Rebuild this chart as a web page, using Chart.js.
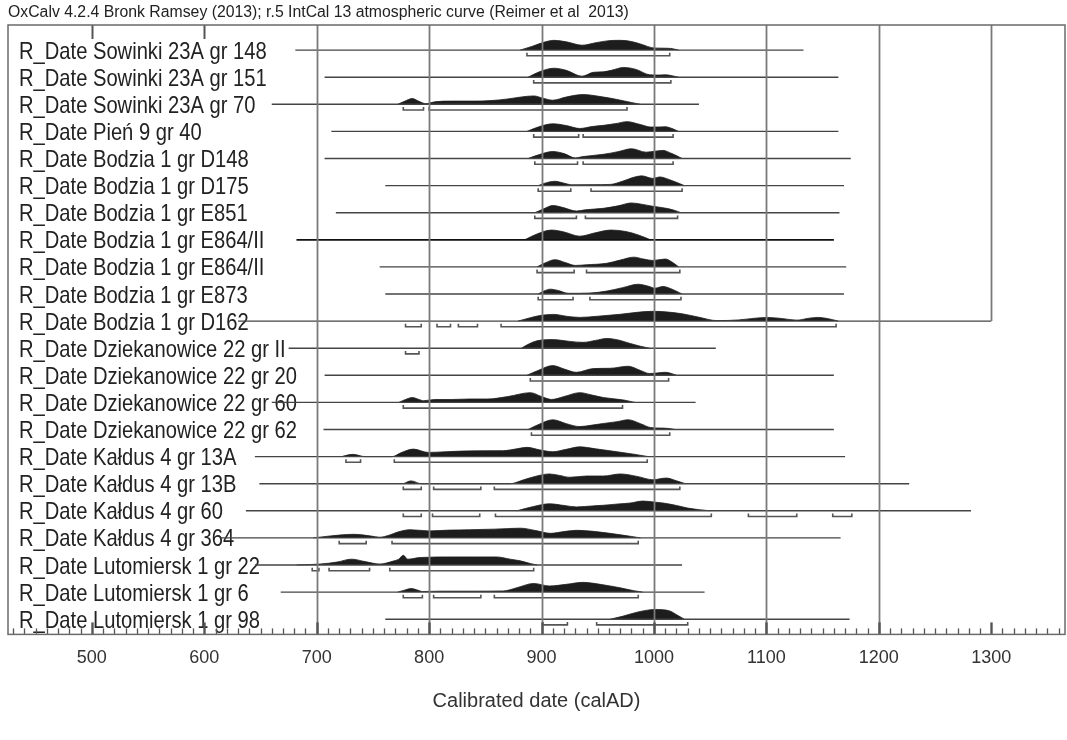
<!DOCTYPE html>
<html>
<head>
<meta charset="utf-8">
<script src="https://cdn.jsdelivr.net/npm/chart.js@4.4.1/dist/chart.umd.min.js"></script>
<style>
  html, body { margin: 0; padding: 0; background: #fff; }
  #wrap { width: 1067px; height: 740px; }
</style>
</head>
<body>
<div id="wrap"><canvas id="chart" width="1067" height="740"></canvas></div>
<script>

const headerText = 'OxCalv 4.2.4 Bronk Ramsey (2013); r.5 IntCal 13 atmospheric curve (Reimer et al  2013)';
const axisTitle = 'Calibrated date (calAD)';

const sampleLabels = [
  'R_Date Sowinki 23A gr 148',
  'R_Date Sowinki 23A gr 151',
  'R_Date Sowinki 23A gr 70',
  'R_Date Pień 9 gr 40',
  'R_Date Bodzia 1 gr D148',
  'R_Date Bodzia 1 gr D175',
  'R_Date Bodzia 1 gr E851',
  'R_Date Bodzia 1 gr E864/II',
  'R_Date Bodzia 1 gr E864/II',
  'R_Date Bodzia 1 gr E873',
  'R_Date Bodzia 1 gr D162',
  'R_Date Dziekanowice 22 gr II',
  'R_Date Dziekanowice 22 gr 20',
  'R_Date Dziekanowice 22 gr 60',
  'R_Date Dziekanowice 22 gr 62',
  'R_Date Kałdus 4 gr 13A',
  'R_Date Kałdus 4 gr 13B',
  'R_Date Kałdus 4 gr 60',
  'R_Date Kałdus 4 gr 364',
  'R_Date Lutomiersk 1 gr 22',
  'R_Date Lutomiersk 1 gr 6',
  'R_Date Lutomiersk 1 gr 98'
];

// full span of each row's line (calAD)
const rangeLines = [
  [681, 1133], [707, 1164], [660, 1040], [713, 1164], [707, 1175],
  [761, 1169], [717, 1165], [682, 1160], [756, 1171], [761, 1169],
  [630, 1300], [675, 1055], [707, 1160], [660, 1037], [706, 1160],
  [645, 1170], [649, 1227], [637, 1282], [614, 1166], [645, 1025],
  [668, 1045], [761, 1174]
];

// probability outlines: [calAD, relative probability]
const distributions = [
  [[881,0],[892,0.4],[902,0.8],[911,1],[922,0.85],[936,0.5],[948,0.75],[960,0.97],[970,1],[980,0.88],[990,0.55],[998,0.25],[1006,0.2],[1015,0.17],[1022,0]],
  [[888,0],[898,0.55],[911,0.92],[922,0.7],[936,0.1],[946,0.5],[955,0.55],[962,0.7],[973,1],[984,0.8],[996,0.25],[1004,0.22],[1010,0.25],[1016,0.15],[1022,0]],
  [[772,0],[778,0.3],[785,0.59],[791,0.3],[797,0.06],[805,0.25],[820,0.33],[840,0.33],[855,0.38],[870,0.55],[882,0.75],[893,0.86],[902,0.6],[910,0.42],[922,0.75],[937,1],[952,0.8],[967,0.5],[980,0.18],[988,0]],
  [[887,0],[897,0.45],[910,0.78],[922,0.6],[934,0.3],[945,0.5],[955,0.62],[966,0.8],[976,1],[988,0.7],[997,0.45],[1004,0.45],[1010,0.48],[1016,0.3],[1022,0]],
  [[888,0],[898,0.4],[910,0.72],[920,0.5],[930,0.06],[937,0.2],[955,0.43],[968,0.7],[980,1],[993,0.65],[1001,0.75],[1008,0.83],[1016,0.5],[1025,0]],
  [[897,0],[903,0.25],[912,0.44],[920,0.25],[927,0.08],[945,0.1],[961,0.12],[972,0.45],[982,0.85],[989,1],[999,0.74],[1005,0.89],[1014,0.6],[1027,0]],
  [[894,0],[902,0.4],[910,0.74],[920,0.5],[931,0.17],[939,0.3],[955,0.45],[968,0.7],[980,1],[990,0.85],[999,0.66],[1011,0.45],[1018,0.25],[1024,0]],
  [[885,0],[896,0.6],[909,1],[920,0.8],[934,0.37],[947,0.7],[962,1],[975,0.85],[986,0.5],[997,0]],
  [[896,0],[903,0.4],[912,0.74],[921,0.45],[930,0.15],[940,0.22],[958,0.37],[970,0.7],[982,1],[991,0.8],[999,0.66],[1010,0.81],[1016,0.5],[1022,0]],
  [[897,0],[902,0.3],[908,0.5],[915,0.35],[924,0.07],[943,0.1],[958,0.3],[972,0.65],[986,1],[995,0.8],[1001,0.6],[1008,0.77],[1015,0.55],[1025,0]],
  [[879,0],[890,0.35],[900,0.6],[911,0.69],[922,0.5],[934,0.38],[950,0.5],[970,0.7],[985,0.9],[998,1],[1010,0.95],[1025,0.75],[1040,0.4],[1056,0.05],[1075,0.12],[1090,0.3],[1101,0.38],[1115,0.25],[1127,0.1],[1138,0.3],[1146,0.38],[1155,0.25],[1164,0]],
  [[882,0],[889,0.45],[896,0.76],[910,0.88],[925,0.7],[937,0.6],[948,0.8],[958,1],[968,0.85],[979,0.48],[988,0.2],[996,0]],
  [[887,0],[897,0.5],[910,1],[920,0.65],[931,0.31],[946,0.69],[961,0.72],[977,0.93],[988,0.5],[996,0.18],[1004,0.25],[1010,0.31],[1015,0.2],[1020,0]],
  [[773,0],[779,0.3],[785,0.5],[791,0.3],[795,0.17],[805,0.3],[820,0.3],[836,0.35],[852,0.35],[870,0.6],[890,1],[900,0.6],[909,0.3],[920,0.6],[934,1],[945,0.75],[955,0.5],[973,0.25],[983,0]],
  [[888,0],[898,0.55],[910,1],[922,0.6],[934,0.3],[945,0.45],[955,0.62],[967,0.8],[977,1],[988,0.6],[997,0.2],[1005,0.15],[1012,0.12],[1019,0]],
  [[722,0],[732,0.23],[743,0],[767,0],[775,0.4],[786,0.77],[799,0.43],[815,0.5],[830,0.57],[850,0.6],[866,0.61],[878,0.8],[887,0.95],[898,0.7],[910,0.5],[922,0.75],[934,1],[948,0.8],[967,0.5],[982,0.25],[995,0]],
  [[777,0],[784,0.29],[793,0],[872,0],[884,0.4],[896,0.8],[907,1],[916,0.85],[925,0.66],[940,0.79],[955,0.79],[970,1],[985,0.75],[999,0.41],[1011,0.58],[1020,0.3],[1028,0]],
  [[878,0],[893,0.45],[907,0.72],[920,0.55],[931,0.4],[945,0.5],[955,0.57],[968,0.7],[979,0.8],[990,1],[1000,0.9],[1008,0.8],[1020,0.55],[1030,0.28],[1040,0.12],[1050,0]],
  [[697,0],[712,0.2],[733,0.37],[748,0.2],[756,0.07],[765,0.3],[772,0.6],[783,0.84],[800,0.72],[818,0.8],[836,0.84],[858,0.9],[881,1],[895,0.75],[908,0.47],[920,0.65],[931,0.78],[948,0.65],[967,0.37],[980,0.15],[988,0]],
  [[682,0],[703,0.1],[718,0.3],[731,0.6],[743,0.35],[756,0.1],[768,0.4],[773,0.6],[777,1],[781,0.6],[792,0.77],[821,0.83],[845,0.83],[860,0.83],[872,0.6],[881,0.43],[890,0.15],[896,0]],
  [[772,0],[778,0.2],[784,0.37],[790,0.2],[794,0.06],[810,0.1],[840,0.1],[866,0.12],[878,0.45],[893,0.89],[907,0.63],[922,0.8],[937,1],[952,0.8],[970,0.44],[982,0.15],[990,0]],
  [[961,0],[972,0.3],[985,0.72],[1001,1],[1014,0.85],[1021,0.4],[1027,0]]
];

// 95.4% ranges drawn as brackets under each line
const brackets = [
  [[887,1014]],
  [[893,1015]],
  [[777,795],[800,976]],
  [[893,933],[937,1017]],
  [[894,932],[937,1017]],
  [[897,926],[944,1025]],
  [[894,931],[939,1021]],
  [],
  [[896,929],[940,1023]],
  [[897,928],[943,1024]],
  [[779,793],[807,819],[826,843],[864,1162]],
  [[779,791]],
  [[890,1013]],
  [[777,972]],
  [[891,1014]],
  [[726,739],[769,994]],
  [[777,793],[804,846],[858,1023]],
  [[777,793],[803,845],[859,1051],[1084,1127],[1159,1176]],
  [[720,744],[767,986]],
  [[696,702],[711,747],[765,893]],
  [[777,794],[804,846],[858,986]],
  [[901,923],[949,1030]]
];

const xTickValues = [500, 600, 700, 800, 900, 1000, 1100, 1200, 1300];
const gridYears = [700, 800, 900, 1000, 1100, 1200];
const partialGridYear = 1300;     // this grid line stops at the D162 row
const partialGridLastRow = 10;
const topTickYears = [500, 600];
const minorTickStep = 10;

// ── Styling ─────────────────────────────────────────────────────────────────

const FONT = '"Liberation Sans", Arial, sans-serif';
const peakHeight = 0.36;      // in row units
const bracketDrop = 0.21;
const bracketTick = 0.1;

function narrowText(ctx, text, x, y, size, squeeze, baseline) {
  ctx.save();
  ctx.font = size + 'px ' + FONT;
  ctx.fillStyle = '#222';
  ctx.textBaseline = baseline;
  ctx.textAlign = 'left';
  ctx.translate(x, y);
  ctx.scale(squeeze, 1);
  ctx.fillText(text, 0, 0);
  ctx.restore();
}

// ── Datasets ────────────────────────────────────────────────────────────────

const datasets = [];
sampleLabels.forEach((label, i) => {
  datasets.push({
    label: label + ' prob',
    data: distributions[i].map(([yr, p]) => ({ x: yr, y: i - p * peakHeight })),
    showLine: true,
    fill: { value: i },
    backgroundColor: '#1d1d1d',
    borderColor: '#1d1d1d',
    borderWidth: 0.8,
    pointRadius: 0,
    cubicInterpolationMode: 'monotone',
    order: 3
  });
  datasets.push({
    label: label + ' range',
    data: [{ x: rangeLines[i][0], y: i }, { x: rangeLines[i][1], y: i }],
    showLine: true,
    borderColor: i === 7 ? '#111' : '#444',
    borderWidth: i === 7 ? 1.7 : 1.4,
    pointRadius: 0,
    order: 2
  });
  if (brackets[i].length) {
    const pts = [];
    brackets[i].forEach(([a, b]) => {
      pts.push({ x: a, y: i + bracketTick }, { x: a, y: i + bracketDrop },
               { x: b, y: i + bracketDrop }, { x: b, y: i + bracketTick },
               { x: b, y: null });
    });
    datasets.push({
      label: label + ' 95.4%',
      data: pts,
      showLine: true,
      spanGaps: false,
      borderColor: '#555',
      borderWidth: 1.6,
      pointRadius: 0,
      order: 1
    });
  }
});

// ── Decorations: labels, grid, ticks, frame ─────────────────────────────────

const oxcalDecor = {
  id: 'oxcalDecor',
  beforeDatasetsDraw(chart) {
    const { ctx, chartArea, scales: { y } } = chart;
    narrowText(ctx, headerText, 8, 13, 15.8, 1.0, 'middle');
    sampleLabels.forEach((lab, i) => {
      narrowText(ctx, lab, chartArea.left + 11, y.getPixelForValue(i) + 8.5, 24, 0.84, 'alphabetic');
    });
  },
  afterDatasetsDraw(chart) {
    const { ctx, chartArea: { left, right, top, bottom }, scales: { x, y } } = chart;
    ctx.save();
    ctx.strokeStyle = '#7a7a7a';
    ctx.lineWidth = 1.8;
    gridYears.forEach(v => {
      const px = Math.round(x.getPixelForValue(v)) + 0.5;
      ctx.beginPath(); ctx.moveTo(px, top); ctx.lineTo(px, bottom); ctx.stroke();
    });
    const pg = Math.round(x.getPixelForValue(partialGridYear)) + 0.5;
    ctx.beginPath(); ctx.moveTo(pg, top); ctx.lineTo(pg, y.getPixelForValue(partialGridLastRow)); ctx.stroke();

    // ticks along the bottom (pointing in) and the two top ones
    ctx.strokeStyle = '#555';
    for (let v = Math.ceil(x.min / minorTickStep) * minorTickStep; v <= x.max; v += minorTickStep) {
      const px = Math.round(x.getPixelForValue(v)) + 0.5;
      const major = v % 100 === 0;
      ctx.lineWidth = major ? 2.4 : 1.3;
      ctx.beginPath(); ctx.moveTo(px, bottom); ctx.lineTo(px, bottom - (major ? 12 : 6)); ctx.stroke();
    }
    ctx.lineWidth = 2;
    topTickYears.forEach(v => {
      const px = Math.round(x.getPixelForValue(v)) + 0.5;
      ctx.beginPath(); ctx.moveTo(px, top); ctx.lineTo(px, top + 14); ctx.stroke();
    });

    ctx.strokeStyle = '#6a6a6a';
    ctx.lineWidth = 1.5;
    ctx.strokeRect(left, top, right - left, bottom - top);
    ctx.restore();
  }
};

new Chart(document.getElementById('chart'), {
  type: 'scatter',
  data: { datasets },
  options: {
    responsive: false,
    animation: false,
    layout: { padding: { left: 8, right: 2, top: 25, bottom: 27 } },
    plugins: { legend: { display: false }, tooltip: { enabled: false } },
    scales: {
      x: {
        type: 'linear',
        min: 425.4,
        max: 1365.6,
        afterBuildTicks: scale => { scale.ticks = xTickValues.map(v => ({ value: v })); },
        grid: { display: false },
        border: { display: false },
        ticks: {
          color: '#333',
          font: { family: FONT, size: 18 },
          padding: 5,
          callback: v => String(v)
        },
        title: {
          display: true,
          text: axisTitle,
          color: '#333',
          font: { family: FONT, size: 20 },
          padding: { top: 15, bottom: 0 }
        }
      },
      y: {
        type: 'linear',
        display: false,
        reverse: true,
        min: -0.926,
        max: 21.56
      }
    }
  },
  plugins: [oxcalDecor]
});
</script>
</body>
</html>
